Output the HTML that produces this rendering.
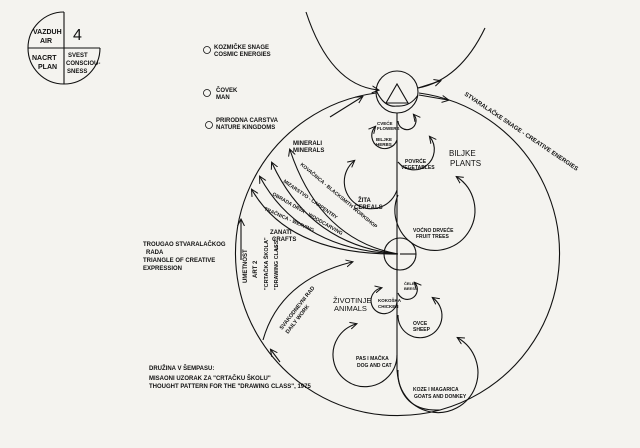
<!DOCTYPE html>
<html><head><meta charset="utf-8"><style>
html,body{margin:0;padding:0;background:#f4f3ef;}
svg{display:block}
text{font-family:"Liberation Sans",sans-serif;fill:#111}
</style></head><body>
<svg width="640" height="448" viewBox="0 0 640 448" xmlns="http://www.w3.org/2000/svg" font-size="6" font-weight="bold">
<defs><marker id="a" markerWidth="8" markerHeight="8" refX="6" refY="4" orient="auto" markerUnits="userSpaceOnUse"><path d="M0,0.5 L7,4 L0,7.5" fill="none" stroke="#111" stroke-width="1"/></marker></defs>
<rect width="640" height="448" fill="#f4f3ef"/>
<g fill="none" stroke="#111" stroke-width="1.1">
<path d="M64,12 A36,36 0 1 0 100,48"/>
<line x1="28" y1="48" x2="100" y2="48"/>
<line x1="64" y1="12" x2="64" y2="84"/>
<path d="M306,12 Q330,85 378,90" marker-end="url(#a)"/>
<path d="M418,88 Q460,80 485,28"/>
<path d="M418,88 L440,81" marker-end="url(#a)"/>
<circle cx="397" cy="92" r="21"/>
<path d="M386,103 L397,84 L408,103 Z"/>
<path d="M376,90 Q384,108 397,106 Q410,107 418,95"/>
<path d="M419,93 A162,162 0 1 1 376,93"/>
<path d="M330,117 L362,97" marker-end="url(#a)"/>
<path d="M419,95 L448,100" marker-end="url(#a)"/>
<path d="M397,113 L397,370 Q400,412 440,410"/>
<circle cx="400" cy="254" r="16"/>
<line x1="400" y1="254" x2="416" y2="254"/>
<path d="M398,254 Q320,240 290,150" marker-end="url(#a)"/>
<path d="M398,254 Q310,245 272,163" marker-end="url(#a)"/>
<path d="M398,254 Q300,250 260,177" marker-end="url(#a)"/>
<path d="M398,254 Q290,255 252,190" marker-end="url(#a)"/>
<path d="M263,340 Q280,280 352,262" marker-end="url(#a)"/>
<path d="M280,362 L271,350" marker-end="url(#a)"/>
<path d="M241,260 L241,220" marker-end="url(#a)"/>
<path d="M398,121 A9,9 0 1 0 414,115" marker-end="url(#a)"/>
<path d="M397,140 A13,13 0 1 1 375,127" marker-end="url(#a)"/>
<path d="M398,162 A20,20 0 1 0 430,137" marker-end="url(#a)"/>
<path d="M397,190 A27,27 0 1 1 354,161" marker-end="url(#a)"/>
<path d="M398,195 A40,40 0 1 0 457,177" marker-end="url(#a)"/>
<path d="M398,293 A10,10 0 1 0 415,283" marker-end="url(#a)"/>
<path d="M397,300 A13,13 0 1 1 381,288" marker-end="url(#a)"/>
<path d="M398,315 A22,22 0 1 0 433,298" marker-end="url(#a)"/>
<path d="M397,355 A32,32 0 1 1 356,324" marker-end="url(#a)"/>
<path d="M398,370 A40,40 0 1 0 458,338" marker-end="url(#a)"/>
</g>
<text x="33" y="34" font-size="7">VAZDUH</text><text x="40" y="43" font-size="7">AIR</text>
<text x="73" y="40" font-size="16" font-weight="normal">4</text>
<text x="32" y="60" font-size="7">NACRT</text><text x="38" y="69" font-size="7">PLAN</text>
<text x="68" y="57">SVEST</text><text x="66" y="65">CONSCIOU-</text><text x="67" y="73">SNESS</text>
<g fill="none" stroke="#111" stroke-width="0.8"><circle cx="207" cy="50" r="3.5"/><circle cx="207" cy="93" r="3.5"/><circle cx="209" cy="125" r="3.5"/></g>
<text x="214" y="49">KOZMIČKE SNAGE</text><text x="214" y="56">COSMIC ENERGIES</text>
<text x="216" y="92">ČOVEK</text><text x="216" y="99">MAN</text>
<text x="216" y="122">PRIRODNA CARSTVA</text><text x="216" y="129">NATURE KINGDOMS</text>
<text x="293" y="145">MINERALI</text><text x="293" y="152">MINERALS</text>
<text x="377" y="125" font-size="4.5">CVEĆE</text><text x="377" y="130" font-size="4.5">FLOWERS</text>
<text x="376" y="141" font-size="4.5">BILJKE</text><text x="376" y="146" font-size="4.5">HERBS</text>
<text x="405" y="163" font-size="5">POVRĆE</text><text x="401" y="169" font-size="5">VEGETABLES</text>
<text x="449" y="156" font-size="8" font-weight="normal">BILJKE</text><text x="450" y="166" font-size="8" font-weight="normal">PLANTS</text>
<text x="358" y="202">ŽITA</text><text x="354" y="209">CEREALS</text>
<text x="413" y="232" font-size="5">VOĆNO DRVEĆE</text><text x="416" y="238" font-size="5">FRUIT TREES</text>
<text x="404" y="285" font-size="4">ČELE</text><text x="404" y="290" font-size="4">BEES</text>
<text x="378" y="302" font-size="4.5">KOKOŠKA</text><text x="378" y="308" font-size="4.5">CHICKEN</text>
<text x="333" y="303" font-size="7.5" font-weight="normal">ŽIVOTINJE</text><text x="334" y="311" font-size="7.5" font-weight="normal">ANIMALS</text>
<text x="413" y="325" font-size="5">OVCE</text><text x="413" y="331" font-size="5">SHEEP</text>
<text x="356" y="360" font-size="5">PAS I MAČKA</text><text x="357" y="367" font-size="5">DOG AND CAT</text>
<text x="413" y="391" font-size="5">KOZE I MAGARICA</text><text x="414" y="398" font-size="5">GOATS AND DONKEY</text>
<text x="143" y="246">TROUGAO STVARALAČKOG</text><text x="146" y="254">RADA</text><text x="143" y="262">TRIANGLE OF CREATIVE</text><text x="143" y="270">EXPRESSION</text>
<text x="149" y="370">DRUŽINA V ŠEMPASU:</text>
<text x="149" y="380">MISAONI UZORAK ZA "CRTAČKU ŠKOLU"</text>
<text x="149" y="388">THOUGHT PATTERN FOR THE "DRAWING CLASS", 1975</text>
<text x="270" y="234">ZANATI</text><text x="272" y="241">CRAFTS</text><text x="275" y="250">3</text>
<text transform="translate(268,290) rotate(-90)" font-size="5.5">"CRTAČKA ŠKOLA"</text>
<text transform="translate(278,290) rotate(-90)" font-size="5.5">"DRAWING CLASS"</text>
<text transform="translate(247,283) rotate(-90)">UMETNOST</text>
<text transform="translate(257,278) rotate(-90)">ART 2</text>
<text transform="translate(282,330) rotate(-52)" font-size="5.5">SVAKODNEVNI RAD</text>
<text transform="translate(288,334) rotate(-52)" font-size="5.5">DAILY WORK</text>
<text transform="translate(300,165) rotate(40)" font-size="5">KOVAČNICA - BLACKSMITH WORKSHOP</text>
<text transform="translate(283,182) rotate(35)" font-size="5">MIZARSTVO - CARPENTRY</text>
<text transform="translate(272,195) rotate(30)" font-size="5">OBRADA DRVA - WOODCARVING</text>
<text transform="translate(264,210) rotate(24)" font-size="5">TRAČNICA - WEAVING</text>
<text transform="translate(464,95) rotate(34)">STVARALAČKE SNAGE - CREATIVE ENERGIES</text>
</svg>
</body></html>
